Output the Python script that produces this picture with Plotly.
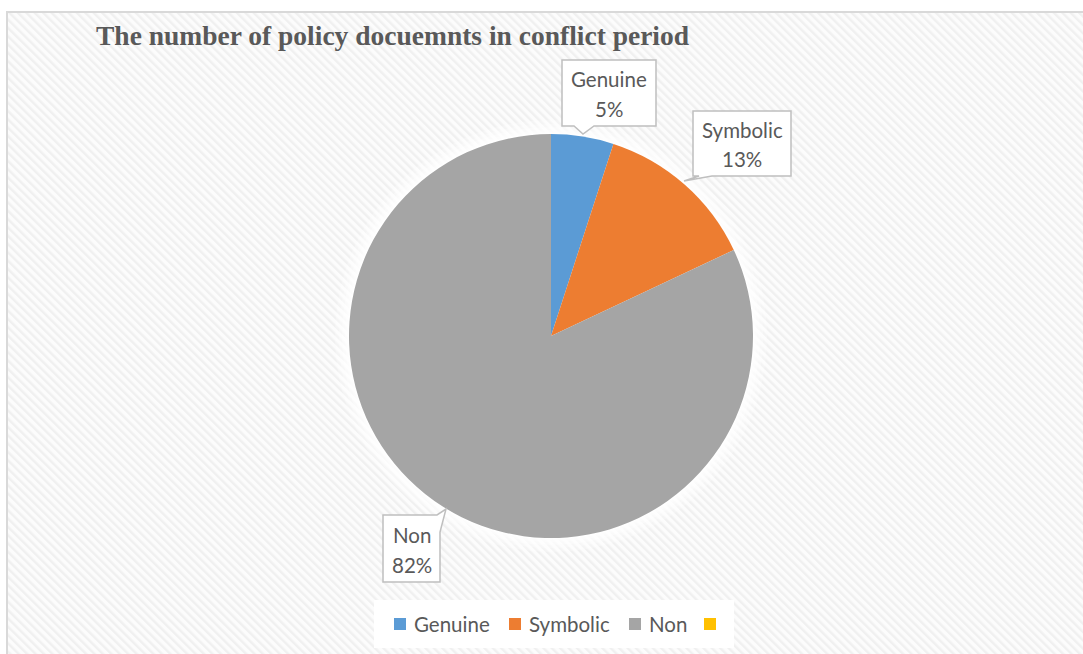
import base64
import plotly.graph_objects as go

# ---- data ----
categories = ["Genuine", "Symbolic", "Non", ""]
values = [5, 13, 82, 0]
colors = ["#5B9BD5", "#ED7D31", "#A5A5A5", "#FFC000"]
title_text = "The number of policy docuemnts in conflict period"

W, H = 1083, 654


def px(x):
    return x / W


def py(y):
    return 1 - y / H


# pie geometry (pixels)
CX, CY, R = 551, 336, 202

# diagonal hatch background as an inline svg pattern
svg = f"""<svg xmlns='http://www.w3.org/2000/svg' width='{W}' height='{H}'>
<defs><pattern id='p' width='6' height='6' patternUnits='userSpaceOnUse' patternTransform='rotate(-45)'>
<rect width='6' height='6' fill='#fcfcfc'/><rect x='0' width='2.5' height='6' fill='#f0f0f0'/></pattern></defs>
<rect width='100%' height='100%' fill='url(#p)'/></svg>"""
bg_src = "data:image/svg+xml;base64," + base64.b64encode(svg.encode()).decode()

fig = go.Figure()
fig.add_trace(go.Pie(
    labels=categories,
    values=values,
    marker=dict(colors=colors, line=dict(width=0)),
    sort=False,
    direction="clockwise",
    rotation=0,
    textinfo="none",
    hoverinfo="label+percent",
    showlegend=False,
    domain=dict(x=[px(CX - R), px(CX + R)], y=[py(CY + R), py(CY - R)]),
))

shapes = []
# chart frame
shapes.append(dict(type="rect", xref="paper", yref="paper",
                   x0=px(7), x1=px(W + 10), y0=py(12), y1=py(H + 10),
                   line=dict(color="#d9d9d9", width=2), fillcolor="rgba(0,0,0,0)",
                   layer="below"))
# soft halo around the pie
for k, op in zip([14, 10, 7, 4, 2], [0.25, 0.3, 0.35, 0.4, 0.5]):
    shapes.append(dict(type="circle", xref="paper", yref="paper",
                       x0=px(CX - R - k), x1=px(CX + R + k),
                       y0=py(CY + R + k), y1=py(CY - R - k),
                       fillcolor=f"rgba(255,255,255,{op})", line=dict(width=0),
                       layer="below"))

# callout boxes: (left, top, right, bottom) and outline with its pointer
callouts = [
    dict(box=(562, 60, 656, 126), path=[(562, 60), (656, 60), (656, 126), (594, 126), (583, 134), (574, 126), (562, 126)]),
    dict(box=(693, 111, 791, 176), path=[(693, 111), (791, 111), (791, 176), (712, 176), (684, 181), (699, 176), (693, 176)]),
    dict(box=(383, 515, 440, 582), path=[(383, 515), (437, 515), (446, 509), (440, 532), (440, 582), (383, 582)]),
]

label_font = dict(family="Lato", size=20.5, color="#595959")
total = sum(values)
annotations = []
for i, c in enumerate(callouts):
    pts = c["path"]
    d = "M " + " L ".join(f"{px(x):.5f},{py(y):.5f}" for x, y in pts) + " Z"
    shapes.append(dict(type="path", xref="paper", yref="paper", path=d,
                       fillcolor="white", line=dict(color="#bfbfbf", width=1.5),
                       layer="above"))
    l, t, r, b = c["box"]
    mid_x, mid_y = (l + r) / 2, (t + b) / 2
    pct = round(values[i] / total * 100)
    for line_text, dy in ((categories[i], -14), (f"{pct}%", 16)):
        annotations.append(dict(
            xref="paper", yref="paper", x=px(mid_x), y=py(mid_y + dy),
            text=line_text, showarrow=False, font=label_font,
            xanchor="center", yanchor="middle", align="center",
        ))

# title
annotations.append(dict(
    xref="paper", yref="paper", x=px(94), y=py(35), text=f"<b>{title_text}</b>",
    showarrow=False, xanchor="left", yanchor="middle",
    font=dict(family="Liberation Serif", size=27.5, color="#595959"),
))

# legend
shapes.append(dict(type="rect", xref="paper", yref="paper",
                   x0=px(374), x1=px(734), y0=py(648), y1=py(600),
                   fillcolor="white", line=dict(width=0), layer="below"))
legend_x = [394, 509, 629, 704]
for cat, col, lx in zip(categories, colors, legend_x):
    shapes.append(dict(type="rect", xref="paper", yref="paper",
                       x0=px(lx), x1=px(lx + 12), y0=py(630), y1=py(618),
                       fillcolor=col, line=dict(width=0), layer="above"))
    if cat:
        annotations.append(dict(
            xref="paper", yref="paper", x=px(lx + 18), y=py(624), text=cat,
            showarrow=False, xanchor="left", yanchor="middle", font=label_font,
        ))

fig.update_layout(
    width=W, height=H,
    margin=dict(l=0, r=0, t=0, b=0),
    paper_bgcolor="white",
    plot_bgcolor="white",
    images=[dict(source=bg_src, xref="paper", yref="paper", x=px(8), y=py(13),
                 sizex=px(W) - px(8), sizey=py(13), xanchor="left", yanchor="top",
                 sizing="stretch", layer="below")],
    shapes=shapes,
    annotations=annotations,
    showlegend=False,
)

fig.write_html("out.html")
